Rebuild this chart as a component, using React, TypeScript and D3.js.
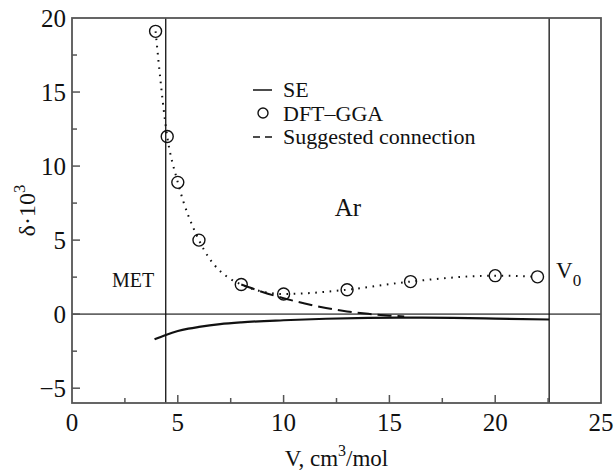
import React from 'react';
import * as d3 from 'd3';

// DFT-GGA points (circles + dotted guide)
const dftV = [3.95, 4.5, 5.0, 6.0, 8.0, 10.0, 13.0, 16.0, 20.0, 22.0];
const dftDelta = [19.1, 12.0, 8.9, 5.0, 2.0, 1.36, 1.65, 2.2, 2.6, 2.52];

// SE curve (solid)
const seV = [3.9, 4.4, 5.0, 5.5, 6.0, 7.0, 8.0, 10.0, 12.0, 14.0, 16.0, 18.0, 20.0, 22.55];
const seDelta = [-1.7, -1.42, -1.14, -0.98, -0.86, -0.67, -0.55, -0.41, -0.31, -0.25, -0.23, -0.25, -0.3, -0.36];

// suggested connection (dashed)
const sugV = [8.0, 9.0, 10.0, 11.0, 12.0, 13.0, 14.0, 15.0, 15.7];
const sugDelta = [2.0, 1.5, 1.08, 0.72, 0.42, 0.18, 0.02, -0.1, -0.15];

// vertical markers: metallization and V0
const markerV = [4.43, 22.55];

const xTickLabels = [0, 5, 10, 15, 20, 25];
const xMinor = [2.5, 7.5, 12.5, 17.5, 22.5];
const yTickLabels = [-5, 0, 5, 10, 15, 20];
const yMinor = [-2.5, 2.5, 7.5, 12.5, 17.5];

const legendItems = ['SE', 'DFT\u2013GGA', 'Suggested connection'];

const W = 616, H = 472;
const margin = { top: 18, right: 15, bottom: 69, left: 72 };
const FONT = "Liberation Serif";

export default function App() {
  const x = d3.scaleLinear().domain([0, 25]).range([margin.left, W - margin.right]);
  const y = d3.scaleLinear().domain([-6, 20]).range([H - margin.bottom, margin.top]);

  const dftPts: [number, number][] = dftV.map((v, i) => [v, dftDelta[i]]);
  const sePts: [number, number][] = seV.map((v, i) => [v, seDelta[i]]);
  const sugPts: [number, number][] = sugV.map((v, i) => [v, sugDelta[i]]);

  const line = d3.line<[number, number]>()
    .x(d => x(d[0]))
    .y(d => y(d[1]))
    .curve(d3.curveMonotoneX);

  const x0 = x(0), x1 = x(25), yb = y(-6), yt = y(20);
  const frame = '#555';
  const txt = { fontFamily: FONT };

  return (
    <svg width={W} height={H} style={{ position: 'absolute', left: 0, top: 0, background: '#fff' }}>
      {/* zero line */}
      <line x1={x0} x2={x1} y1={y(0)} y2={y(0)} stroke="#666" strokeWidth={1.8} />

      {/* vertical markers */}
      {markerV.map(v => (
        <line key={v} x1={x(v)} x2={x(v)} y1={yt} y2={yb} stroke="#111" strokeWidth={1.3} />
      ))}

      {/* ticks (inward) */}
      {xTickLabels.filter(t => t > 0 && t < 25).map(t => (
        <line key={'xt' + t} x1={x(t)} x2={x(t)} y1={yb} y2={yb - 8} stroke={frame} strokeWidth={1.5} />
      ))}
      {xMinor.map(t => (
        <line key={'xm' + t} x1={x(t)} x2={x(t)} y1={yb} y2={yb - 5} stroke={frame} strokeWidth={1.5} />
      ))}
      {yTickLabels.filter(t => t < 20).map(t => (
        <line key={'yt' + t} x1={x0} x2={x0 + 8} y1={y(t)} y2={y(t)} stroke={frame} strokeWidth={1.5} />
      ))}
      {yMinor.map(t => (
        <line key={'ym' + t} x1={x0} x2={x0 + 5} y1={y(t)} y2={y(t)} stroke={frame} strokeWidth={1.5} />
      ))}

      {/* frame */}
      <rect x={x0} y={yt} width={x1 - x0} height={yb - yt} fill="none" stroke={frame} strokeWidth={1.8} />

      {/* tick labels */}
      {xTickLabels.map(t => (
        <text key={'xl' + t} style={txt} x={x(t)} y={431} textAnchor="middle" fontSize={25} fill="#111">{t}</text>
      ))}
      {yTickLabels.map(t => (
        <text key={'yl' + t} style={txt} x={66} y={y(t)} dy="0.34em" textAnchor="end" fontSize={25} fill="#111">
          {t < 0 ? '\u2212' + Math.abs(t) : t}
        </text>
      ))}

      {/* SE curve */}
      <path d={line(sePts) || ''} fill="none" stroke="#111" strokeWidth={2.2} />
      {/* suggested connection */}
      <path d={line(sugPts) || ''} fill="none" stroke="#111" strokeWidth={2} strokeDasharray="14 6" />
      {/* DFT-GGA dotted guide */}
      <path d={line(dftPts) || ''} fill="none" stroke="#111" strokeWidth={2} strokeDasharray="1.6 5.6" />
      {dftPts.map((d, i) => (
        <circle key={'c' + i} cx={x(d[0])} cy={y(d[1])} r={6} fill="none" stroke="#111" strokeWidth={1.4} />
      ))}

      {/* legend */}
      <g fontSize={22} fill="#111">
        <line x1={253} x2={272} y1={90} y2={90} stroke="#111" strokeWidth={1.5} />
        <circle cx={263} cy={113} r={5} fill="none" stroke="#111" strokeWidth={1.4} />
        <line x1={253} x2={272} y1={137} y2={137} stroke="#111" strokeWidth={1.5} strokeDasharray="7 5" />
        {legendItems.map((s, i) => (
          <text key={s} style={txt} x={283} y={97 + i * 23.5}>{s}</text>
        ))}
      </g>

      {/* annotations */}
      <text style={txt} x={348} y={216} textAnchor="middle" fontSize={25} fill="#111">Ar</text>
      <text style={txt} x={112} y={287} fontSize={20} fill="#111">MET</text>
      <text style={txt} x={556} y={278} fontSize={23} fill="#111">
        V<tspan fontSize={17} dy={8}>0</tspan>
      </text>

      {/* axis titles */}
      <text style={txt} x={(x0 + x1) / 2} y={466} textAnchor="middle" fontSize={23} fill="#111">
        V, cm<tspan fontSize={16} dy={-10}>3</tspan><tspan dy={10}>/mol</tspan>
      </text>
      <text style={txt} transform={`translate(35,${(yt + yb) / 2}) rotate(-90)`} textAnchor="middle" fontSize={24} fill="#111">
        {'\u03b4\u00b710'}<tspan fontSize={17} dy={-10}>3</tspan>
      </text>
    </svg>
  );
}
